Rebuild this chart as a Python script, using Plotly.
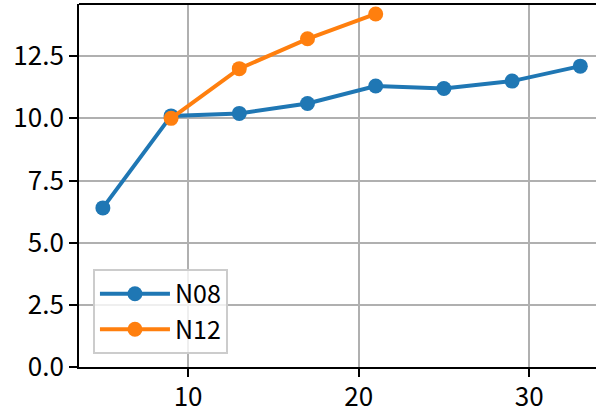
import plotly.graph_objects as go

n08_x = [5, 9, 13, 17, 21, 25, 29, 33]
n08_y = [6.4, 10.1, 10.2, 10.6, 11.3, 11.2, 11.5, 12.1]
n12_x = [9, 13, 17, 21]
n12_y = [10.0, 12.0, 13.2, 14.2]
xticks = [10, 20, 30]
yticks = [0, 2.5, 5.0, 7.5, 10.0, 12.5]

FONT = "Noto Sans CJK JP"
fig = go.Figure()
fig.add_trace(go.Scatter(x=n08_x, y=n08_y, mode="lines+markers", name="N08",
                         line=dict(color="#1f77b4", width=4),
                         marker=dict(size=15, color="#1f77b4")))
fig.add_trace(go.Scatter(x=n12_x, y=n12_y, mode="lines+markers", name="N12",
                         line=dict(color="#ff7f0e", width=4),
                         marker=dict(size=15, color="#ff7f0e")))

fig.update_layout(
    width=596, height=407,
    margin=dict(l=79, r=0, t=4, b=40),
    paper_bgcolor="white", plot_bgcolor="white",
    font=dict(family=FONT, size=26, color="black"),
    showlegend=True,
    legend=dict(x=0.027, y=0.036, xanchor="left", yanchor="bottom",
                bgcolor="rgba(255,255,255,0.8)", bordercolor="#cccccc", borderwidth=2,
                itemwidth=70,
                font=dict(family=FONT, size=25, color="black")),
    xaxis=dict(range=[3.6, 33.92], tickvals=xticks, showgrid=True, gridcolor="#b0b0b0",
               gridwidth=1.9, showline=True, linecolor="black", linewidth=1.9,
               ticks="outside", ticklen=8, tickwidth=1.9, tickcolor="black",
               zeroline=False, automargin=False, tickfont=dict(size=26),
               ticklabelstandoff=-2),
    yaxis=dict(range=[0, 14.6], tickvals=yticks, tickformat=".1f", showgrid=True,
               gridcolor="#b0b0b0", gridwidth=1.9, showline=True, linecolor="black",
               linewidth=1.9, ticks="outside", ticklen=8, tickwidth=1.9, tickcolor="black",
               zeroline=False, automargin=False, tickfont=dict(size=26)),
    shapes=[dict(type="line", xref="paper", yref="paper", x0=0, x1=1, y0=1, y1=1,
                 line=dict(color="black", width=1.9))],
)

fig.write_html("out.html", config={"displayModeBar": False},
               post_script="document.body.style.margin='0';document.body.style.overflow='hidden';")
